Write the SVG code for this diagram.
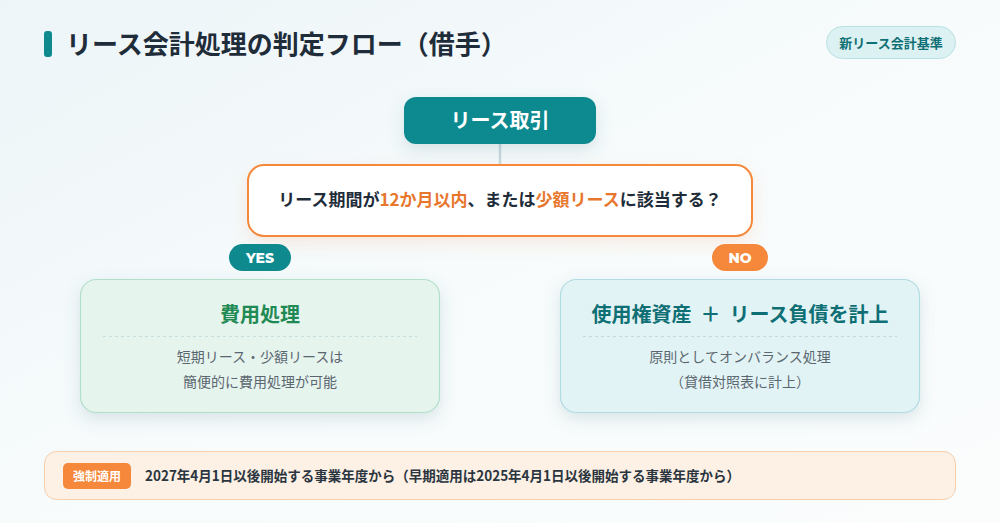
<svg xmlns="http://www.w3.org/2000/svg" width="1000" height="523" viewBox="0 0 1000 523">
<defs>
<linearGradient id="bg" x1="0" y1="0" x2="1" y2="1">
<stop offset="0" stop-color="#edf5f8"/>
<stop offset="0.5" stop-color="#f7fbfc"/>
<stop offset="1" stop-color="#fbfdfd"/>
</linearGradient>
<filter id="sh" x="-20%" y="-30%" width="140%" height="170%">
<feDropShadow dx="0" dy="6" stdDeviation="8" flood-color="#4a7a88" flood-opacity="0.18"/>
</filter>
<filter id="shO" x="-10%" y="-30%" width="120%" height="170%">
<feDropShadow dx="0" dy="6" stdDeviation="8" flood-color="#f5883a" flood-opacity="0.15"/>
</filter>
</defs>
<style>
text{font-family:"Noto Sans CJK JP","Noto Sans",sans-serif;}
.b{font-weight:700;}
.c{text-anchor:middle;}
.dark{fill:#1f2d3a;}
.or{fill:#e8772e;}
.body{font-size:14px;fill:#5b6770;}
.box{stroke-width:1.2;}
.pill{font-family:"Montserrat","Open Sans","Noto Sans",sans-serif;font-weight:800;}
</style>
<rect width="1000" height="523" fill="url(#bg)"/>
<g id="title">
<rect x="44" y="31" width="8" height="26" rx="3" fill="#0e8a8f"/>
<text x="66" y="54" font-size="26" class="b dark">リース会計処理の判定フロー（借手）</text>
</g>
<g id="badge">
<rect x="826.500" y="26.500" width="129" height="32" rx="16" fill="#dcf1f2" stroke="#b9e0e3"/>
<text x="891" y="47.500" font-size="13" class="b c" fill="#0e6f74">新リース会計基準</text>
</g>
<g id="connectors">
<line x1="500" y1="144" x2="500" y2="166" stroke="#cad8dd" stroke-width="2.500"/>
</g>
<g id="start">
<rect x="404" y="97" width="192" height="47" rx="12" fill="#0e8a8f" filter="url(#sh)"/>
<text x="500" y="128" font-size="20" class="b c" fill="#ffffff">リース取引</text>
</g>
<g id="decision">
<rect x="248" y="165" width="504" height="71" rx="16" fill="#ffffff" stroke="#f5883a" stroke-width="2" filter="url(#shO)"/>
<text x="500" y="206" font-size="17" class="b c dark">リース期間が<tspan class="or">12か月以内</tspan>、または<tspan class="or">少額リース</tspan>に該当する？</text>
</g>
<g id="yes">
<rect x="229" y="244" width="62" height="27" rx="13.500" fill="#0e8a8f"/>
<text x="260" y="262.500" font-size="14" class="pill c" fill="#ffffff">YES</text>
</g>
<g id="no">
<rect x="712" y="244" width="56" height="27" rx="13.500" fill="#f5883a"/>
<text x="740" y="262.500" font-size="14" class="pill c" fill="#ffffff">NO</text>
</g>
<g id="expense">
<rect x="80.500" y="279.500" width="359" height="133" rx="16" fill="#e6f4ee" stroke="#b2dfca" class="box" filter="url(#sh)"/>
<text x="260" y="322" font-size="20" class="b c" fill="#1f8a53">費用処理</text>
<line x1="103" y1="336.500" x2="417" y2="336.500" stroke="#c5dfe0" stroke-dasharray="3 3"/>
<text x="260" y="362" class="body c">短期リース・少額リースは</text>
<text x="260" y="387" class="body c">簡便的に費用処理が可能</text>
</g>
<g id="onbalance">
<rect x="560.500" y="279.500" width="359" height="133" rx="16" fill="#e2f3f5" stroke="#b1dbe2" class="box" filter="url(#sh)"/>
<text x="740" y="322" font-size="20" class="b c" fill="#0e6f74" xml:space="preserve">使用権資産  ＋  リース負債を計上</text>
<line x1="583" y1="336.500" x2="897" y2="336.500" stroke="#c5d8dc" stroke-dasharray="3 3"/>
<text x="740" y="362" class="body c">原則としてオンバランス処理</text>
<text x="740" y="387" class="body c">（貸借対照表に計上）</text>
</g>
<g id="note">
<rect x="44.500" y="451.500" width="911" height="48" rx="12" fill="#fdf0e4" stroke="#f5cfae"/>
<rect x="63" y="463" width="68" height="26" rx="5" fill="#f5883a"/>
<text x="97" y="481" font-size="12" class="b c" fill="#ffffff">強制適用</text>
<text x="145" y="481" font-size="14" class="b" fill="#2a3540" textLength="595" lengthAdjust="spacingAndGlyphs">2027年4月1日以後開始する事業年度から（早期適用は2025年4月1日以後開始する事業年度から）</text>
</g>
</svg>
